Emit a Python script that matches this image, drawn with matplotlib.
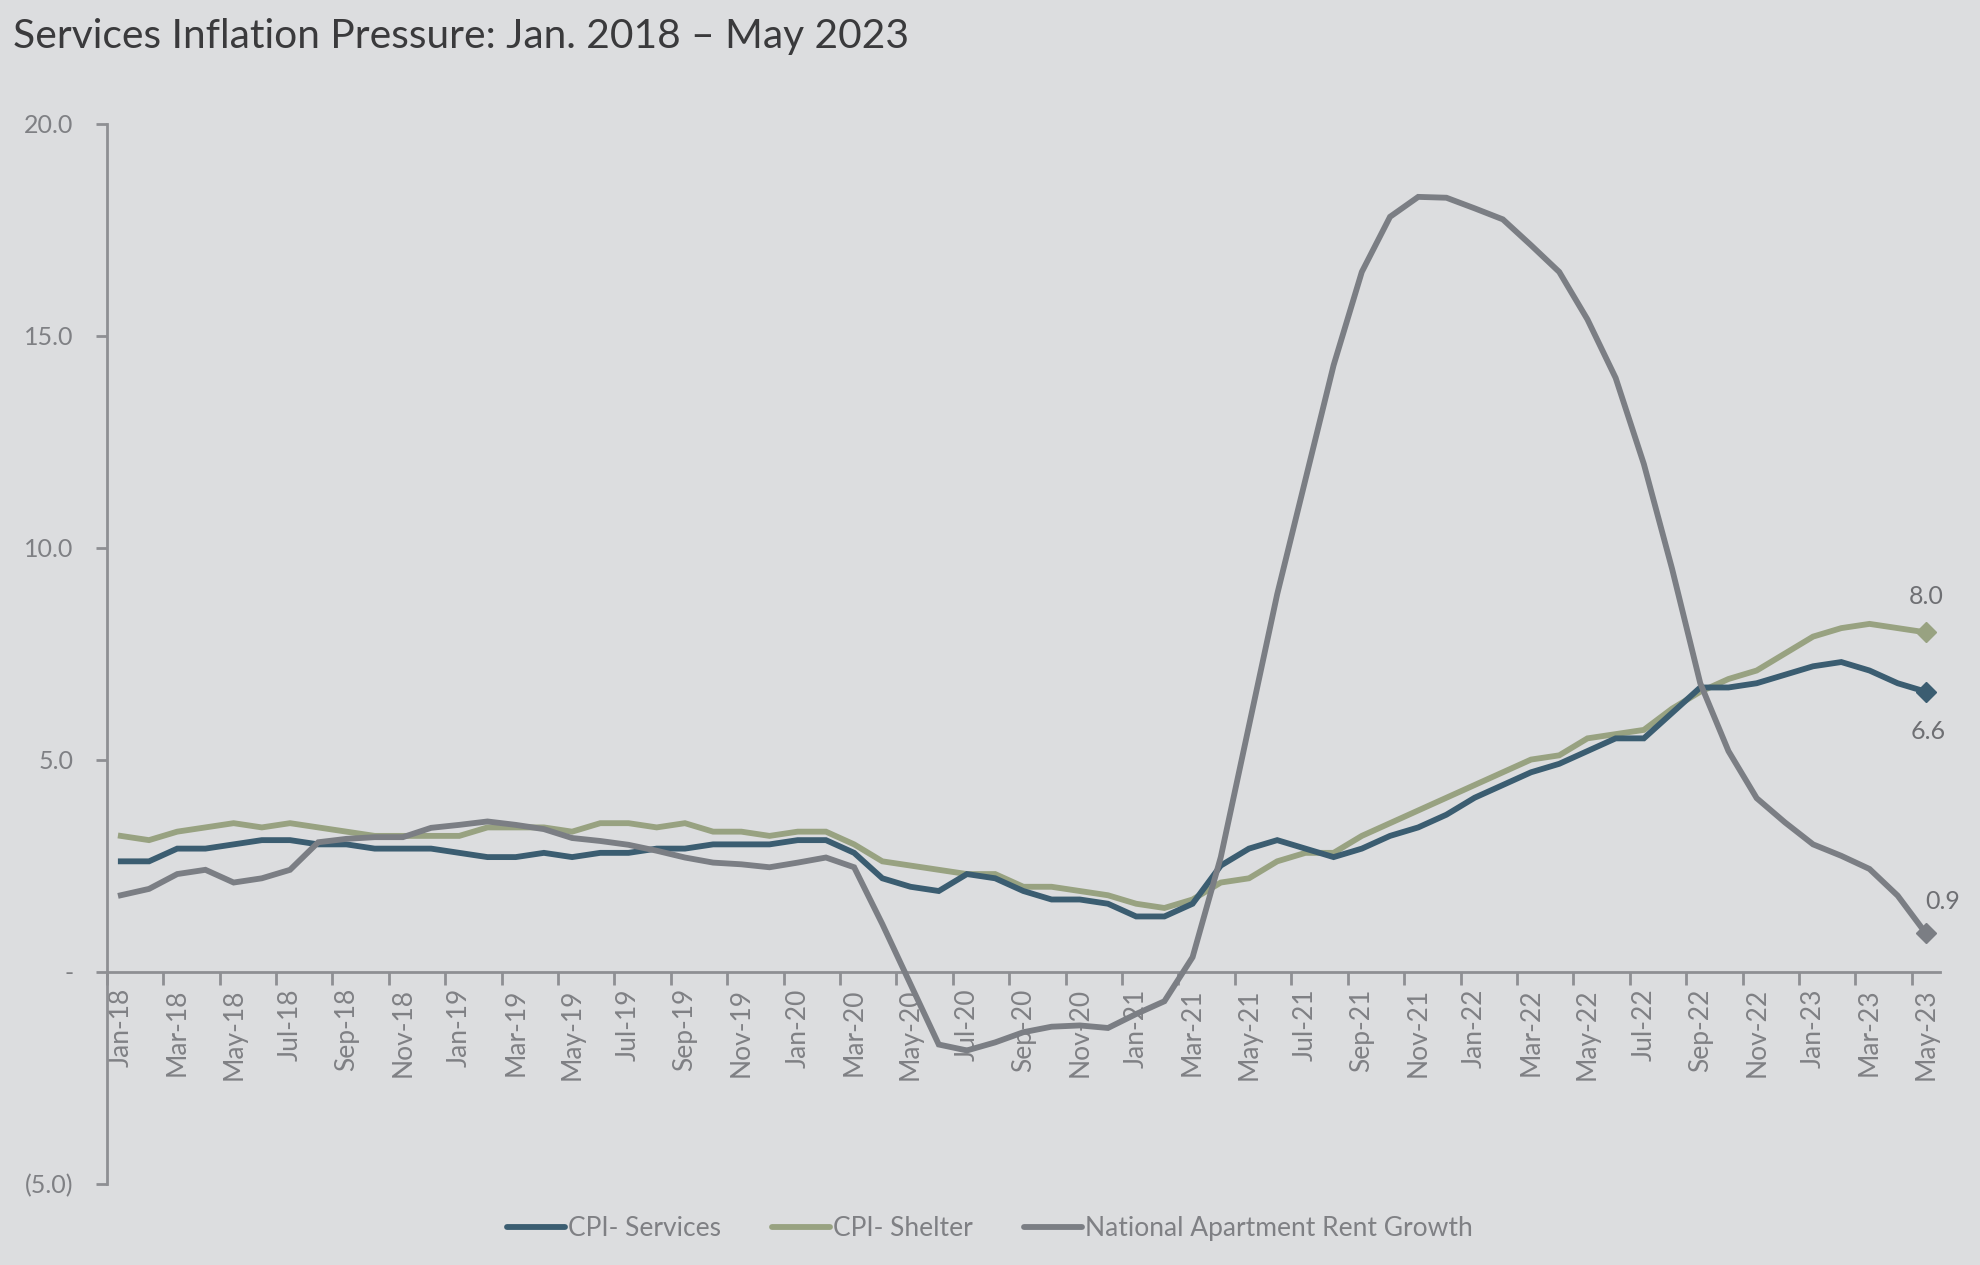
import matplotlib
matplotlib.use("Agg")
import matplotlib.pyplot as plt
from matplotlib.lines import Line2D

plt.rcParams['font.family'] = ['Lato', 'DejaVu Sans']

months = ["Jan", "Feb", "Mar", "Apr", "May", "Jun",
          "Jul", "Aug", "Sep", "Oct", "Nov", "Dec"]
dates = [f"{m}-{y:02d}" for y in range(18, 24) for m in months][:65]

cpi_services = [2.6, 2.6, 2.9, 2.9, 3.0, 3.1, 3.1, 3.0, 3.0, 2.9, 2.9, 2.9, 2.8, 2.7, 2.7, 2.8, 2.7,
                2.8, 2.8, 2.9, 2.9, 3.0, 3.0, 3.0, 3.1, 3.1, 2.8, 2.2, 2.0, 1.9, 2.3, 2.2, 1.9, 1.7,
                1.7, 1.6, 1.3, 1.3, 1.6, 2.5, 2.9, 3.1, 2.9, 2.7, 2.9, 3.2, 3.4, 3.7, 4.1, 4.4, 4.7,
                4.9, 5.2, 5.5, 5.5, 6.1, 6.7, 6.7, 6.8, 7.0, 7.2, 7.3, 7.1, 6.8, 6.6]

cpi_shelter = [3.2, 3.1, 3.3, 3.4, 3.5, 3.4, 3.5, 3.4, 3.3, 3.2, 3.2, 3.2, 3.2, 3.4, 3.4, 3.4, 3.3,
               3.5, 3.5, 3.4, 3.5, 3.3, 3.3, 3.2, 3.3, 3.3, 3.0, 2.6, 2.5, 2.4, 2.3, 2.3, 2.0, 2.0,
               1.9, 1.8, 1.6, 1.5, 1.7, 2.1, 2.2, 2.6, 2.8, 2.8, 3.2, 3.5, 3.8, 4.1, 4.4, 4.7, 5.0,
               5.1, 5.5, 5.6, 5.7, 6.2, 6.6, 6.9, 7.1, 7.5, 7.9, 8.1, 8.2, 8.1, 8.0]

rent_growth = [1.8, 1.95, 2.3, 2.4, 2.1, 2.2, 2.4, 3.05, 3.13, 3.17, 3.17, 3.39, 3.46, 3.54, 3.46, 3.36, 3.15,
               3.08, 2.99, 2.85, 2.69, 2.57, 2.53, 2.46, 2.57, 2.69, 2.46, 1.12, -0.3, -1.72, -1.86, -1.67, -1.43, -1.30,
               -1.27, -1.33, -1.0, -0.7, 0.34, 2.7, 5.8, 8.9, 11.6, 14.3, 16.5, 17.8, 18.27, 18.25, 18.0, 17.74, 17.13,
               16.5, 15.38, 14.0, 11.97, 9.5, 6.8, 5.2, 4.09, 3.52, 3.0, 2.73, 2.42, 1.79, 0.9]

series_names = ["CPI- Services", "CPI- Shelter", "National Apartment Rent Growth"]
y_ticks = [-5, 0, 5, 10, 15, 20]
y_tick_labels = ["(5.0)", "-", "5.0", "10.0", "15.0", "20.0"]

BG = "#dcdddf"
C_SERV = "#3b5d71"
C_SHEL = "#98a281"
C_RENT = "#7b7e84"
AXIS = "#8e8f93"
TXT = "#7f8084"

fig = plt.figure(figsize=(19.8, 12.65), dpi=100, facecolor=BG)
ax = fig.add_axes([0.0539, 0.06435, 0.9798 - 0.0539, 0.838])
ax.set_facecolor(BG)

x = list(range(len(dates)))
lw = 4.2
ax.plot(x, cpi_services, color=C_SERV, lw=lw, solid_joinstyle='miter', zorder=3)
ax.plot(x, cpi_shelter, color=C_SHEL, lw=lw, solid_joinstyle='miter', zorder=2)
ax.plot(x, rent_growth, color=C_RENT, lw=lw, solid_joinstyle='miter', zorder=4)

# end-point diamonds with value labels
last = len(x) - 1
for vals, col, off in [(cpi_shelter, C_SHEL, (0, 36)),
                       (cpi_services, C_SERV, (2, -40)),
                       (rent_growth, C_RENT, (17, 32))]:
    ax.plot([last], [vals[-1]], marker='D', ms=10, color=col, zorder=5)
    ax.annotate(f"{vals[-1]:.1f}", (last, vals[-1]), xytext=off,
                textcoords='offset pixels', ha='center', va='center',
                fontsize=18, color="#6e6f73", zorder=6)

ax.set_xlim(-0.5, len(dates) - 0.5)
ax.set_ylim(-5, 20)

for s in ["top", "right"]:
    ax.spines[s].set_visible(False)
ax.spines["bottom"].set_position(("data", 0))
ax.spines["left"].set_bounds(-5, 20)
for s in ["bottom", "left"]:
    ax.spines[s].set_color(AXIS)
    ax.spines[s].set_linewidth(2)

ax.set_yticks(y_ticks)
ax.set_yticklabels(y_tick_labels)
ax.tick_params(axis='y', direction='out', length=8, width=2, color=AXIS,
               labelsize=18, labelcolor=TXT, pad=16)

label_pos = x[::2]
ax.set_xticks(label_pos)
ax.set_xticklabels([dates[i] for i in label_pos], rotation=90, ha='center', va='top')
ax.set_xticks([p - 0.5 for p in label_pos], minor=True)
ax.tick_params(axis='x', which='major', length=0, labelsize=19, labelcolor=TXT, pad=12)
ax.tick_params(axis='x', which='minor', direction='out', length=9, width=2, color=AXIS)

fig.text(0.0064, 0.9715, "Services Inflation Pressure: Jan. 2018 \u2013 May 2023",
         fontsize=29.3, color="#3a3a3c", ha='left', va='center')

handles = [Line2D([0], [0], color=c, lw=lw, solid_capstyle='round') for c in (C_SERV, C_SHEL, C_RENT)]
fig.legend(handles, series_names, loc='center', bbox_to_anchor=(0.5, 0.0285),
           ncol=3, frameon=False, fontsize=19, labelcolor=TXT,
           handlelength=2.2, handletextpad=0.1, columnspacing=1.95)

fig.savefig("out.png", dpi=100, facecolor=BG)
